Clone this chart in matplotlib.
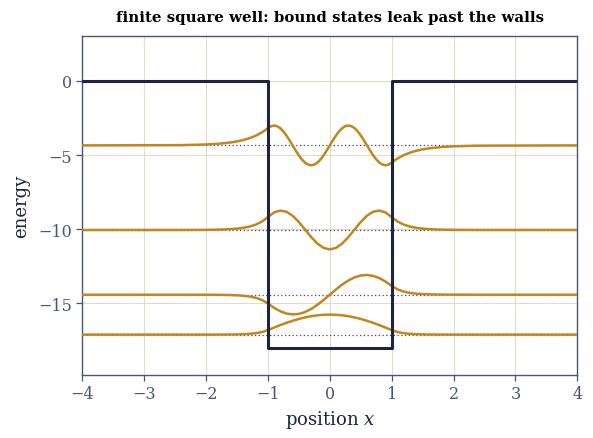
import matplotlib
matplotlib.use("Agg")
import matplotlib.pyplot as plt

# potential: V = 0 outside, -18 inside |x| < 1
well_x = [-4.0, -1.0, -1.0, 1.0, 1.0, 4.0]
well_v = [0.0, 0.0, -18.0, -18.0, 0.0, 0.0]

# bound state energies
energies = [-17.10, -14.41, -10.05, -4.35]

# sample positions for the three lower wavefunction curves
xs = [-4.0, -2.4, -2.0, -1.8, -1.6, -1.5, -1.4, -1.3, -1.2, -1.1, -1.0,
      -0.9, -0.8, -0.7, -0.6, -0.5, -0.4, -0.3, -0.2, -0.1, 0.0,
      0.1, 0.2, 0.3, 0.4, 0.5, 0.6, 0.7, 0.8, 0.9, 1.0,
      1.1, 1.2, 1.3, 1.4, 1.5, 1.6, 1.8, 2.0, 2.4, 4.0]

# wavefunction offsets from each level
psi1 = [0.0, 0.0, 0.001, 0.003, 0.009, 0.016, 0.029, 0.052, 0.094, 0.168, 0.302,
        0.477, 0.642, 0.795, 0.934, 1.056, 1.159, 1.242, 1.301, 1.338, 1.350,
        1.338, 1.301, 1.242, 1.159, 1.056, 0.934, 0.795, 0.642, 0.477, 0.302,
        0.168, 0.094, 0.052, 0.029, 0.016, 0.009, 0.003, 0.001, 0.0, 0.0]
psi2 = [0.0, 0.0, -0.003, -0.008, -0.024, -0.041, -0.069, -0.119, -0.203, -0.347, -0.594,
        -0.887, -1.118, -1.269, -1.329, -1.295, -1.168, -0.958, -0.679, -0.352, 0.0,
        0.352, 0.679, 0.958, 1.168, 1.295, 1.329, 1.269, 1.118, 0.887, 0.594,
        0.347, 0.203, 0.119, 0.069, 0.041, 0.024, 0.008, 0.003, 0.0, 0.0]
psi3 = [0.0, 0.002, 0.010, 0.024, 0.059, 0.092, 0.145, 0.227, 0.355, 0.556, 0.870,
        1.182, 1.309, 1.230, 0.959, 0.537, 0.031, -0.480, -0.915, -1.207, -1.310,
        -1.207, -0.915, -0.480, 0.031, 0.537, 0.959, 1.230, 1.309, 1.182, 0.870,
        0.556, 0.355, 0.227, 0.145, 0.092, 0.059, 0.024, 0.010, 0.002, 0.0]

# the top state wiggles faster, so it is read at a finer spacing
xs4 = [-4.0, -2.4, -2.0, -1.8, -1.6, -1.5, -1.4, -1.3, -1.2, -1.1, -1.05,
       -1.0, -0.95, -0.9, -0.85, -0.8, -0.75, -0.7, -0.65, -0.6, -0.55,
       -0.5, -0.45, -0.4, -0.35, -0.3, -0.25, -0.2, -0.15, -0.1, -0.05, 0.0,
       0.05, 0.1, 0.15, 0.2, 0.25, 0.3, 0.35, 0.4, 0.45, 0.5,
       0.55, 0.6, 0.65, 0.7, 0.75, 0.8, 0.85, 0.9, 0.95, 1.0,
       1.05, 1.1, 1.2, 1.3, 1.4, 1.5, 1.6, 1.8, 2.0, 2.4, 4.0]
psi4 = [0.0, 0.019, 0.061, 0.110, 0.199, 0.267, 0.359, 0.482, 0.647, 0.869, 1.007,
        1.167, 1.298, 1.340, 1.291, 1.155, 0.940, 0.662, 0.338, -0.008, -0.354,
        -0.676, -0.952, -1.163, -1.296, -1.340, -1.293, -1.159, -0.946, -0.669, -0.346, 0.0,
        0.346, 0.669, 0.946, 1.159, 1.293, 1.340, 1.296, 1.163, 0.952, 0.676,
        0.354, 0.008, -0.338, -0.662, -0.940, -1.155, -1.291, -1.340, -1.298, -1.167,
        -1.007, -0.869, -0.647, -0.482, -0.359, -0.267, -0.199, -0.110, -0.061, -0.019, 0.0]

curves = [(xs, psi1), (xs, psi2), (xs, psi3), (xs4, psi4)]

navy = "#1b2440"
slate = "#4a5578"
gold = "#c0871f"

plt.rcParams["font.family"] = ["DejaVu Serif"]
plt.rcParams["mathtext.fontset"] = "dejavuserif"

fig = plt.figure(figsize=(5.93, 4.39), dpi=100)
ax = fig.add_axes([0.1388, 0.1442, 0.8347, 0.7708])

ax.grid(True, color="#e3dccb", linewidth=0.8)
ax.set_axisbelow(True)

for e, (cx, psi) in zip(energies, curves):
    ax.plot([-4, 4], [e, e], linestyle=(0, (1, 2)), color="#3a4468",
            linewidth=0.9, zorder=2)
    ax.plot(cx, [e + p for p in psi], color=gold, linewidth=1.8, zorder=3)

ax.plot(well_x, well_v, color=navy, linewidth=2.2, zorder=4)

ax.set_xlim(-4, 4)
ax.set_ylim(-19.8, 3.0)
ax.set_xticks(range(-4, 5))
ax.set_yticks([-15, -10, -5, 0])

for s in ax.spines.values():
    s.set_color(slate)
    s.set_linewidth(1.0)
ax.tick_params(colors=slate, labelsize=11.5, length=4, width=0.9)

ax.set_xlabel("position $x$", fontsize=13, color=navy)
ax.set_ylabel("energy", fontsize=13, color=navy, labelpad=6)
ax.set_title("finite square well: bound states leak past the walls",
             fontsize=10.8, fontweight="bold", color="black", pad=11)

fig.savefig("out.png", dpi=100)
